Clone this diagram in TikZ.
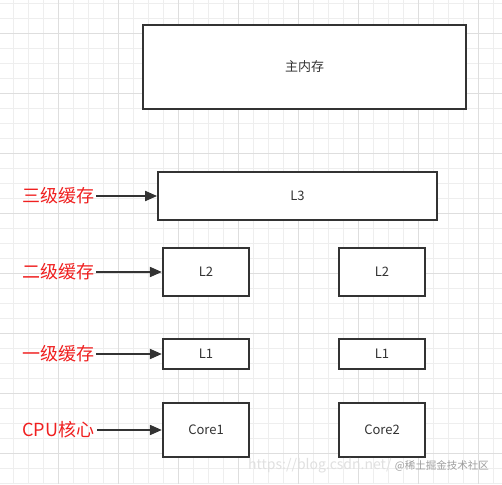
\documentclass[tikz,border=0pt]{standalone}
\usepackage{fontspec}
\setmainfont{Noto Sans CJK SC}
\usetikzlibrary{arrows.meta}

\definecolor{gridminor}{HTML}{EEEEEE}
\definecolor{gridmajor}{HTML}{DEDEDE}
\definecolor{boxline}{HTML}{333333}
\definecolor{labelred}{HTML}{F02020}

\begin{document}
\begin{tikzpicture}[x=1pt,y=-1pt,
    cache/.style={draw=boxline,line width=1.8pt,fill=white,inner sep=0pt,
        text=boxline,font=\fontsize{13}{15}\selectfont},
    level/.style={anchor=west,inner sep=0pt,text=labelred,
        font=\fontsize{18}{20}\selectfont},
    feed/.style={draw=boxline,line width=1.9pt,-{Triangle[length=12pt,width=10pt]}}]
    \useasboundingbox[fill=white] (0,0) rectangle (502,484);

    % grid
    \foreach \i in {0,...,32} {
        \draw[gridminor] ({13.3+15*\i},0) -- ({13.3+15*\i},484);
        \draw[gridminor] (0,{3.3+15*\i}) -- (502,{3.3+15*\i});
    }
    \foreach \i in {0,...,7} {
        \draw[gridmajor] ({58.3+60*\i},0) -- ({58.3+60*\i},484);
        \draw[gridmajor] (0,{33.3+60*\i}) -- (502,{33.3+60*\i});
    }

    % caches
    \node[cache,minimum width=323pt,minimum height=84pt] (mem) at (304.5,67) {主内存};
    \node[cache,minimum width=279pt,minimum height=48pt] (l3) at (297.5,196) {L3};
    \node[cache,minimum width=86.5pt,minimum height=48pt] (l2a) at (206,272) {L2};
    \node[cache,minimum width=86.5pt,minimum height=48pt] (l2b) at (382,272) {L2};
    \node[cache,minimum width=86.5pt,minimum height=30pt] (l1a) at (206,354) {L1};
    \node[cache,minimum width=86.5pt,minimum height=30pt] (l1b) at (382,354) {L1};
    \node[cache,minimum width=86.5pt,minimum height=54pt] (corea) at (206,430) {Core1};
    \node[cache,minimum width=86.5pt,minimum height=54pt] (coreb) at (382,430) {Core2};

    % labels
    \node[level] (lvthree) at (22,196) {三级缓存};
    \node[level] (lvtwo) at (22,272) {二级缓存};
    \node[level] (lvone) at (22,354) {一级缓存};
    \node[level] (lvcore) at (22,430) {CPU核心};

    \draw[feed] ([xshift=2pt]lvthree.east) -- (l3.west);
    \draw[feed] ([xshift=2pt]lvtwo.east) -- (l2a.west);
    \draw[feed] ([xshift=2pt]lvone.east) -- (l1a.west);
    \draw[feed] ([xshift=3pt]lvcore.east) -- (corea.west);

    % watermark
    \node[anchor=west,inner sep=0pt,text=black!12,font=\fontsize{14}{16}\selectfont]
        (url) at (248,466) {https://blog.csdn.net/};
    \node[anchor=east,inner sep=0pt,text=black!38,font=\fontsize{10.5}{12}\selectfont]
        (mark) at (489,466) {@稀土掘金技术社区};
\end{tikzpicture}
\end{document}
